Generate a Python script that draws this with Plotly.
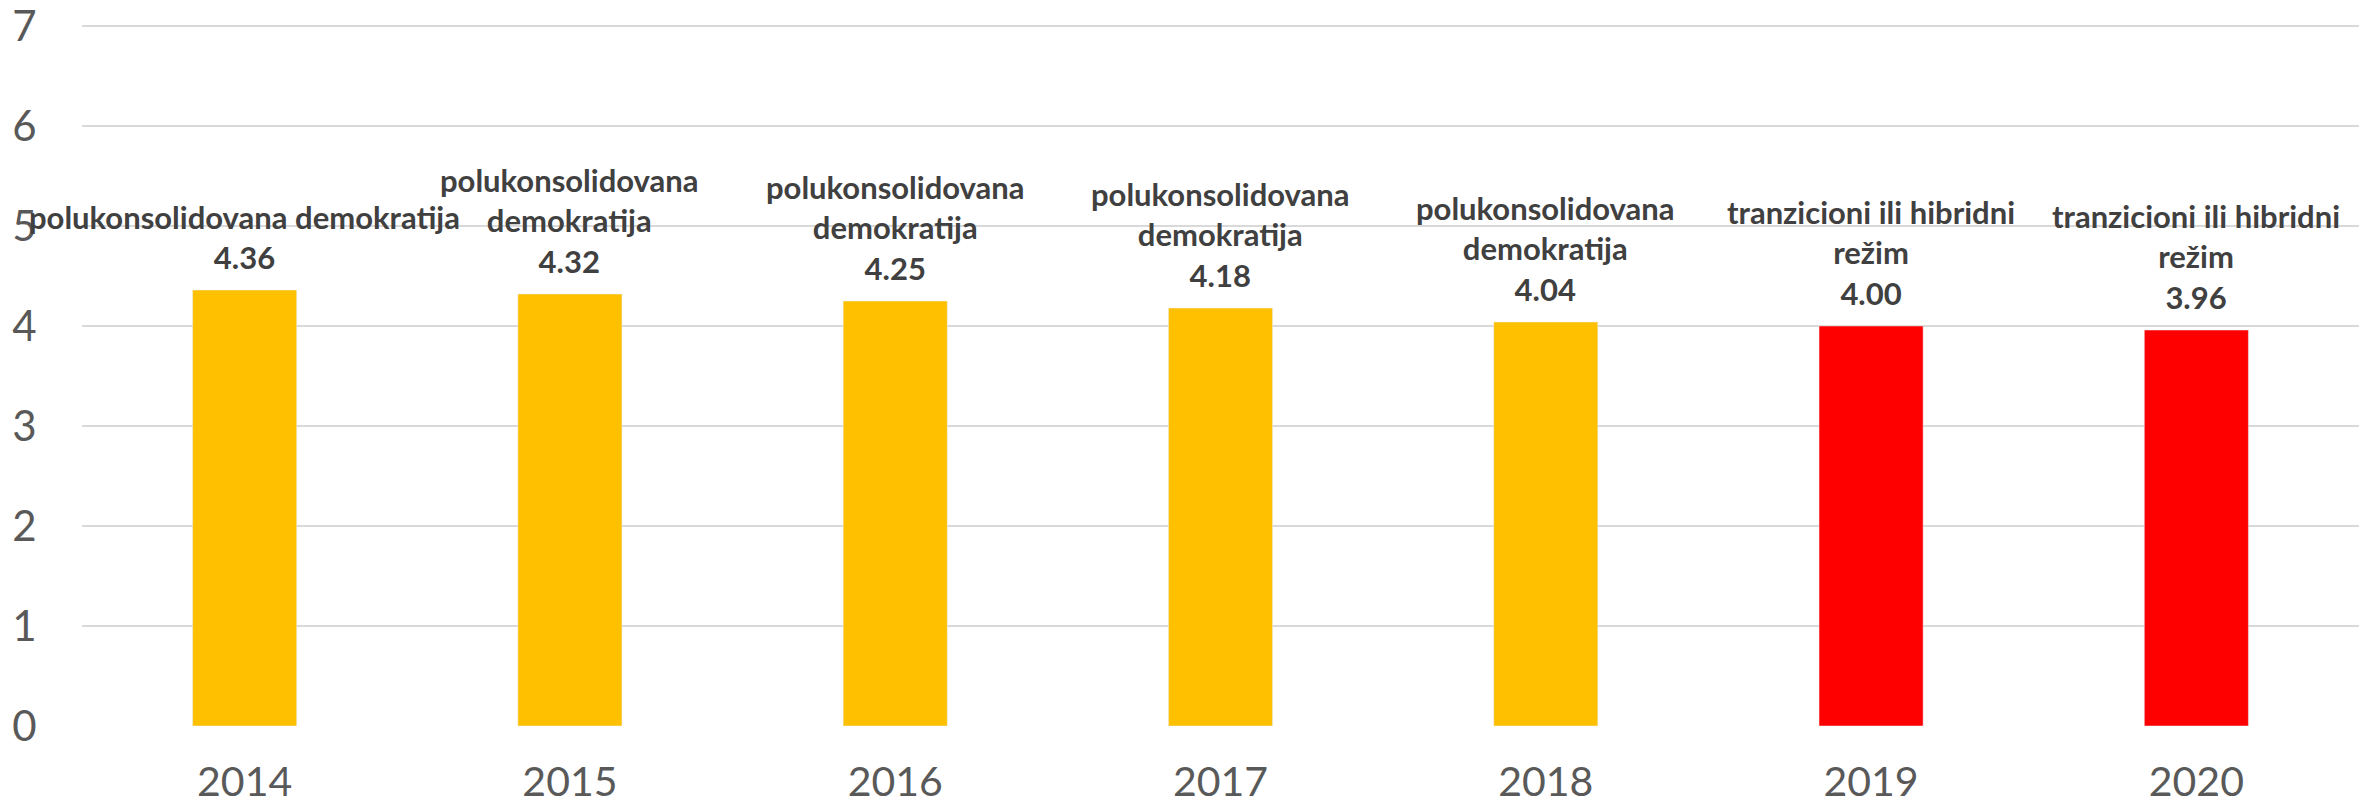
import plotly.graph_objects as go

# data
years = ["2014", "2015", "2016", "2017", "2018", "2019", "2020"]
scores = [4.36, 4.32, 4.25, 4.18, 4.04, 4.00, 3.96]
regimes = [
    "polukonsolidovana demokratija",
    "polukonsolidovana<br>demokratija",
    "polukonsolidovana<br>demokratija",
    "polukonsolidovana<br>demokratija",
    "polukonsolidovana<br>demokratija",
    "tranzicioni ili hibridni<br>režim",
    "tranzicioni ili hibridni<br>režim",
]
bar_colors = ["#FFC000"] * 5 + ["#FF0000"] * 2

fig = go.Figure()
fig.add_trace(go.Bar(x=years, y=scores, marker_color=bar_colors, width=0.32))

# labels above each bar
for i, (s, r) in enumerate(zip(scores, regimes)):
    fig.add_annotation(x=i, y=s, xref="x", yref="y",
                       text="<b>" + r + "<br>" + "%.2f" % s + "</b>",
                       showarrow=False, yanchor="bottom", yshift=12,
                       font=dict(family="Lato", size=31, color="#404040"))

# page body adds 8px, so figure is a bit smaller than the window
fig.update_layout(
    width=2366, height=799,
    margin=dict(l=74, r=15, t=12, b=81),
    plot_bgcolor="white",
    paper_bgcolor="white",
    showlegend=False,
    font=dict(family="Lato", color="#595959"),
    xaxis=dict(type="category", range=[-0.5, 6.5], showline=False,
               automargin=False,
               ticks="outside", ticklen=20, tickcolor="white",
               tickfont=dict(size=41, color="#595959")),
    yaxis=dict(range=[0, 7.06], tickvals=[0, 1, 2, 3, 4, 5, 6, 7],
               gridcolor="#D9D9D9", gridwidth=2, automargin=False,
               zeroline=False, showline=False, ticklabeloverflow="allow",
               ticks="outside", ticklen=36, tickcolor="white",
               tickfont=dict(size=42, color="#595959")),
)

fig.write_html("out.html")
